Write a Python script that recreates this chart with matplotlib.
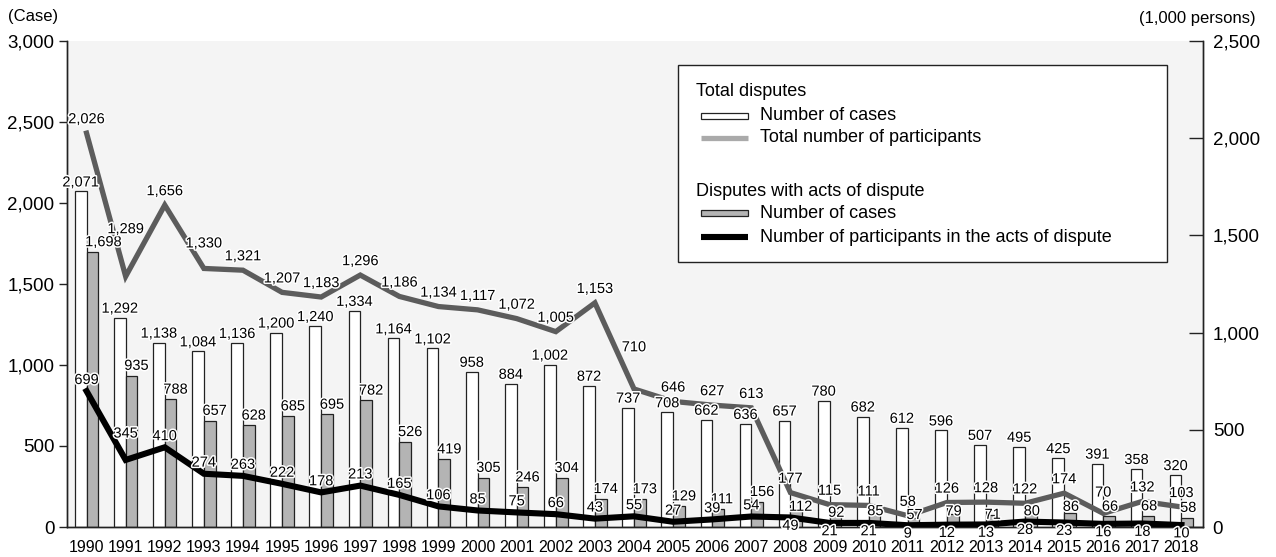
import matplotlib
matplotlib.use("Agg")
import matplotlib.patheffects as pe
import matplotlib.pyplot as plt
import numpy as np
from matplotlib import font_manager
from matplotlib.lines import Line2D
from matplotlib.patches import Rectangle

years = list(range(1990, 2019))
# number of cases (left axis)
total_cases = [2071, 1292, 1138, 1084, 1136, 1200, 1240, 1334, 1164, 1102,
               958, 884, 1002, 872, 737, 708, 662, 636, 657, 780,
               682, 612, 596, 507, 495, 425, 391, 358, 320]
act_cases = [1698, 935, 788, 657, 628, 685, 695, 782, 526, 419,
             305, 246, 304, 174, 173, 129, 111, 156, 112, 92,
             85, 57, 79, 71, 80, 86, 66, 68, 58]
# participants, thousands (right axis)
total_people = [2026, 1289, 1656, 1330, 1321, 1207, 1183, 1296, 1186, 1134,
                1117, 1072, 1005, 1153, 710, 646, 627, 613, 177, 115,
                111, 58, 126, 128, 122, 174, 70, 132, 103]
act_people = [699, 345, 410, 274, 263, 222, 178, 213, 165, 106,
              85, 75, 66, 43, 55, 27, 39, 54, 49, 21,
              21, 9, 12, 13, 28, 23, 16, 18, 10]


def pick_font(*names):
    for n in names:
        try:
            font_manager.findfont(font_manager.FontProperties(family=n),
                                  fallback_to_default=False)
            return n
        except ValueError:
            pass
    return "DejaVu Sans"


def year_font():
    # Arial Narrow look-alike for the crowded year axis, else a smaller Arial
    for f in font_manager.fontManager.ttflist:
        if f.name == "Liberation Sans Narrow" and f.style == "normal" \
                and f.weight == 400:
            return font_manager.FontProperties(fname=f.fname), 13
    return font_manager.FontProperties(family=SANS), 11.5


SANS = pick_font("Liberation Sans", "Arial")
plt.rcParams["font.family"] = [SANS, "DejaVu Sans"]
YEAR_FONT, YEAR_SIZE = year_font()

W, H = 1276, 557
EDGE = "#222222"
LINE_GRAY = "#5c5c5c"
BAR_GRAY = "#b4b4b4"


def fx(px):
    return px / W


def fy(py):
    return 1 - py / H


fig = plt.figure(figsize=(W / 100, H / 100), dpi=100)
ax = fig.add_axes([fx(67), fy(527), (1203 - 67) / W, (527 - 41) / H])
ax.set_facecolor("#f4f4f4")

x = np.arange(len(years))
bw = 0.3
ax.bar(x - bw / 2, total_cases, width=bw, color="white", edgecolor=EDGE,
       linewidth=0.9, zorder=2)
ax.bar(x + bw / 2, act_cases, width=bw, color=BAR_GRAY, edgecolor=EDGE,
       linewidth=0.9, zorder=2)
ax.set_xlim(-0.5, 28.55)
ax.set_ylim(0, 3000)
ax.set_yticks(range(0, 3001, 500))
ax.yaxis.set_major_formatter(matplotlib.ticker.StrMethodFormatter("{x:,.0f}"))
ax.set_xticks(x)
ax.set_xticklabels([str(y) for y in years])
for t in ax.get_xticklabels():
    t.set_fontproperties(YEAR_FONT)
    t.set_fontsize(YEAR_SIZE)
ax.tick_params(axis="x", length=0, pad=9)
ax.tick_params(axis="y", direction="out", length=6, width=1, color=EDGE,
               labelsize=13.5, pad=3)

ax2 = ax.twinx()
ax2.set_ylim(0, 2500)
ax2.set_yticks(range(0, 2501, 500))
ax2.yaxis.set_major_formatter(matplotlib.ticker.StrMethodFormatter("{x:,.0f}"))
ax2.tick_params(axis="y", direction="in", length=10, width=1, color=EDGE,
                labelsize=13.5, pad=7)
ax2.plot(x, total_people, color=LINE_GRAY, lw=3.8, solid_joinstyle="miter",
         zorder=3)
ax2.plot(x, act_people, color="black", lw=4.4, solid_joinstyle="miter",
         zorder=4)

for a in (ax, ax2):
    a.spines["top"].set_visible(False)
    for s in ("left", "right", "bottom"):
        a.spines[s].set_color(EDGE)
        a.spines[s].set_linewidth(1)

halo = [pe.withStroke(linewidth=2.2, foreground="white")]
lab = dict(fontsize=10.5, textcoords="offset points", zorder=10,
           annotation_clip=False, path_effects=halo, va="center")

# bar value labels go on ax2 so they sit above the lines
for i, v in enumerate(total_cases):
    ax2.annotate(f"{v:,}", xy=(i - bw / 2, v), xycoords=ax.transData,
                 xytext=(0, 6.5), ha="center", **lab)

# the small bars from 2008 on carry their labels lower, on the bar top
drop_act = {18: 5.5, 19: 7.5, 20: 5.5, 21: 5, 22: 5, 23: 6.5, 24: 5, 25: 2.5}
for i, v in enumerate(act_cases):
    ax2.annotate(f"{v:,}", xy=(i, v), xycoords=ax.transData,
                 xytext=(-1, 7 - drop_act.get(i, 0)), ha="left", **lab)

# extra lift (points) where the gray line label would sit on the line
raise_total = {1: 24, 3: 8, 14: 20, 26: 5}
for i, v in enumerate(total_people):
    ax2.annotate(f"{v:,}", xy=(i, v), xytext=(0, 10 + raise_total.get(i, 0)),
                 ha="center", **lab)

raise_act = {1: 11}
for i, v in enumerate(act_people):
    dy = 8 + raise_act.get(i, 0) if years[i] < 2008 else -6
    ax2.annotate(f"{v:,}", xy=(i, v), xytext=(0, dy), ha="center", **lab)

fig.text(fx(8), fy(16), "(Case)", fontsize=12, va="center", ha="left")
fig.text(fx(1256), fy(18), "(1,000 persons)", fontsize=12, va="center",
         ha="right")

# legend, drawn by hand so the group headers sit flush left
fig.add_artist(Rectangle((fx(678), fy(262)), (1167 - 678) / W, (262 - 65) / H,
                         transform=fig.transFigure, facecolor="white",
                         edgecolor=EDGE, linewidth=1, zorder=20))
leg_font = 13
fig.text(fx(696), fy(92), "Total disputes", fontsize=leg_font, va="center",
         zorder=21)
fig.text(fx(696), fy(192), "Disputes with acts of dispute", fontsize=leg_font,
         va="center", zorder=21)
for py, face in ((116, "white"), (213, BAR_GRAY)):
    fig.add_artist(Rectangle((fx(701), fy(py + 3)), 47 / W, 6 / H,
                             transform=fig.transFigure, facecolor=face,
                             edgecolor=EDGE, linewidth=0.9, zorder=21))
for py, col, lw in ((138, "#aaaaaa", 3.8), (237, "black", 4.4)):
    fig.add_artist(Line2D([fx(701), fx(748)], [fy(py), fy(py)],
                          transform=fig.transFigure, color=col, lw=lw,
                          solid_capstyle="butt", zorder=21))
for py, text in ((116, "Number of cases"),
                 (138, "Total number of participants"),
                 (213, "Number of cases"),
                 (237, "Number of participants in the acts of dispute")):
    fig.text(fx(760), fy(py), text, fontsize=leg_font, va="center", zorder=21)

fig.savefig("out.png", dpi=100)
